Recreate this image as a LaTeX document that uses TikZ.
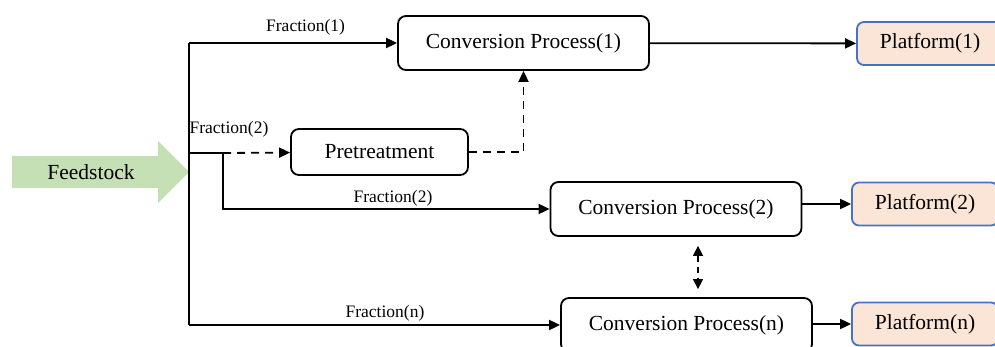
\documentclass[tikz,border=0pt]{standalone}
\usepackage{fontspec}
\setmainfont{Liberation Serif}
\usetikzlibrary{arrows.meta,calc}

\definecolor{platline}{RGB}{68,114,196}
\definecolor{platfill}{RGB}{251,229,214}
\definecolor{feedgreen}{RGB}{197,224,180}

\tikzset{
  proc/.style={draw, line width=1.8pt, rounded corners=8pt, minimum width=251pt,
    minimum height=54pt, font=\fontsize{21.5}{25}\selectfont},
  platbox/.style={draw=platline, fill=platfill,
    line width=1.8pt, rounded corners=7pt, minimum width=146pt, minimum height=43pt,
    font=\fontsize{21.5}{25}\selectfont},
  flow/.style={line width=1.8pt, -{Triangle[length=11pt,width=10pt]}},
  dflow/.style={line width=1.8pt, dash pattern=on 8pt off 6pt, -{Triangle[length=11pt,width=10pt]}},
  frac/.style={font=\fontsize{17.5}{20}\selectfont}
}

\begin{document}
\begin{tikzpicture}[x=1pt,y=-1pt]
  \clip (0,0) rectangle (995,347);

  % feedstock arrow
  \fill[feedgreen] (12,156) -- (158,156) -- (158,141) -- (189,172) -- (158,203)
    -- (158,188) -- (12,188) -- cycle;
  \node[font=\fontsize{21.5}{25}\selectfont] (feed) at (91,172) {Feedstock};

  % boxes
  \node[proc] (cp1) at (523.5,43) {Conversion Process(1)};
  \node[proc, minimum width=177pt, minimum height=46pt] (pre) at (379.5,152) {Pretreatment};
  \node[proc] (cp2) at (676,209) {Conversion Process(2)};
  \node[proc] (cpn) at (686.5,325) {Conversion Process(n)};

  \node[platbox] (pf1) at (930,43.5) {Platform(1)};
  \node[platbox] (pf2) at (925,204) {Platform(2)};
  \node[platbox] (pfn) at (925,324) {Platform(n)};

  % split points
  \coordinate (top) at (189,43);
  \coordinate (bot) at (189,325);
  \coordinate (mid) at (189,153);
  \coordinate (split) at (223,153);

  \draw[line width=1.8pt] (top) -- (bot);
  \draw[flow] (top) -- (cp1) node[frac, pos=0.56, above=4pt] {Fraction(1)};
  \draw[line width=1.8pt] (mid) -- (split);
  \node[frac] (f2a) at (229,129) {Fraction(2)};
  \draw[dflow] (split) -- (pre);
  \draw[flow] (split) |- (cp2);
  \node[frac] (f2b) at (393,198) {Fraction(2)};
  \draw[flow] (bot) -- (cpn);
  \node[frac] (fn) at (385,313) {Fraction(n)};

  \draw[dflow] (pre) -| (cp1);

  \draw[flow] (cp1) -- (pf1);
  \draw[flow] (cp2.east |- pf2) -- (pf2);
  \draw[flow] (cpn.east |- pfn) -- (pfn);

  \draw[line width=1.4pt, dash pattern=on 6pt off 5pt,
    {Triangle[length=10pt,width=10pt]}-{Triangle[length=10pt,width=10pt]}]
    ($(cp2.south)+(22,9)$) -- ($(cpn.north)+(11.5,-8)$);
\end{tikzpicture}
\end{document}
